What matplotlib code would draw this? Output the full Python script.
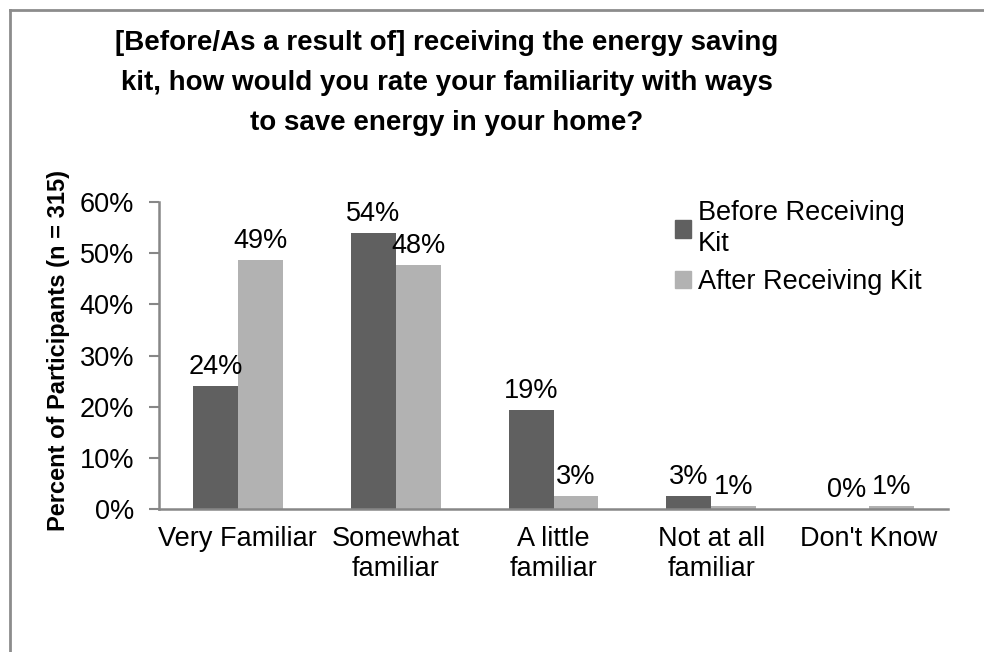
import matplotlib.pyplot as plt
import numpy as np
from matplotlib.lines import Line2D
from matplotlib.patches import Patch

# datos de la encuesta (porcentaje de participantes)
categorias = ['Very Familiar', 'Somewhat\nfamiliar', 'A little\nfamiliar', 'Not at all\nfamiliar', "Don't Know"]
antes = [24.1, 54.0, 19.4, 2.6, 0.0]
despues = [48.6, 47.6, 2.6, 0.6, 0.6]
series = ['Before Receiving\nKit', 'After Receiving Kit']
ticks_y = [0, 10, 20, 30, 40, 50, 60]

plt.rcParams['font.family'] = ['Liberation Sans', 'DejaVu Sans']

W, H = 984, 652
fig = plt.figure(figsize=(W / 100, H / 100), dpi=100)
ax = fig.add_axes([159 / W, 1 - 509 / H, (948 - 159) / W, (509 - 202) / H])

oscuro = '#606060'
claro = '#b2b2b2'
gris = '#878787'
tam = 19.5

x = np.arange(len(categorias))
ancho = 0.285
b1 = ax.bar(x - ancho / 2, antes, ancho, color=oscuro, label=series[0])
b2 = ax.bar(x + ancho / 2, despues, ancho, color=claro, label=series[1])

# etiquetas de valor encima de cada barra
for barras, valores in [(b1, antes), (b2, despues)]:
    for b, v in zip(barras, valores):
        ax.text(b.get_x() + b.get_width() / 2, v + 1.2, '%d%%' % int(v + 0.5),
                ha='center', va='bottom', fontsize=tam)

ax.set_xlim(-0.5, len(categorias) - 0.5)
ax.set_ylim(0, 60)
ax.set_yticks(ticks_y)
ax.set_yticklabels(['%d%%' % t for t in ticks_y], fontsize=tam)
ax.set_xticks(x)
ax.set_xticklabels(categorias, fontsize=tam, linespacing=1.2)
ax.tick_params(axis='x', length=0, pad=12)
ax.tick_params(axis='y', length=7, width=1.5, color=gris, pad=11)

for s in ['top', 'right']:
    ax.spines[s].set_visible(False)
for s in ['left', 'bottom']:
    ax.spines[s].set_color(gris)
    ax.spines[s].set_linewidth(1.8)

ax.set_ylabel('Percent of Participants (n = 315)', fontsize=17, fontweight='bold')
ax.yaxis.set_label_coords(-0.113, 0.515)

fig.text(447 / W, 1 - 83 / H, '[Before/As a result of] receiving the energy saving\n'
         'kit, how would you rate your familiarity with ways\n'
         'to save energy in your home?',
         ha='center', va='center', fontsize=20, fontweight='bold', linespacing=1.72)

handles = [Patch(color=oscuro), Patch(color=claro)]
ax.legend(handles, series, loc='upper left', bbox_to_anchor=(675 / W, 1 - 200 / H),
          bbox_transform=fig.transFigure, frameon=False, fontsize=tam,
          handlelength=0.6, handleheight=0.6, handletextpad=0.25, labelspacing=0.45,
          borderaxespad=0, borderpad=0)
for t in ax.get_legend().get_texts():
    t.set_linespacing(1.25)

# marco exterior (solo se ven los bordes superior e izquierdo)
fig.add_artist(Line2D([9.5 / W, 1], [1 - 10 / H, 1 - 10 / H], color='#8c8c8c', lw=2))
fig.add_artist(Line2D([9.5 / W, 9.5 / W], [0, 1 - 10 / H], color='#8c8c8c', lw=2))

plt.savefig('out.png', dpi=100)
